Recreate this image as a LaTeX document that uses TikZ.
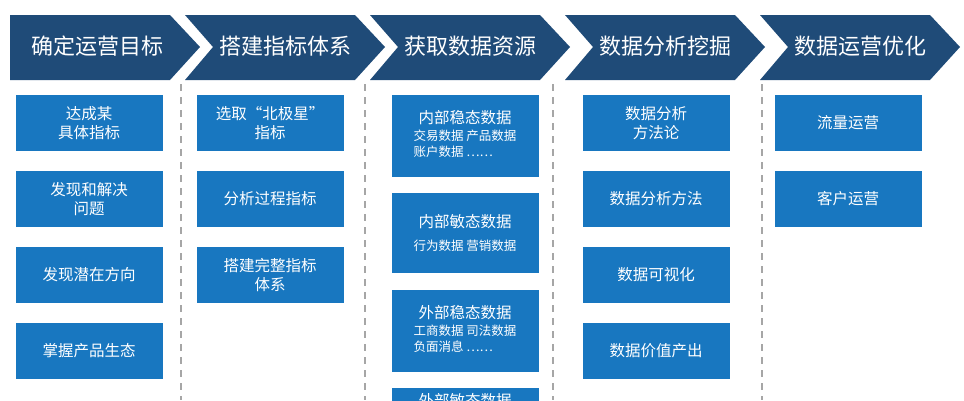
\documentclass[tikz,border=0pt]{standalone}
\usepackage{fontspec}
\setmainfont{Noto Sans CJK SC}
\usetikzlibrary{positioning}
\definecolor{navy}{HTML}{1F4B78}
\definecolor{boxblue}{HTML}{1877C0}
\newcommand{\detailfont}{\fontsize{12.5}{16}\selectfont}
\tikzset{
  stepbox/.style={fill=boxblue, text=white, inner sep=0pt, minimum width=147pt, align=center, font=\fontsize{15.5}{19}\selectfont},
  divider/.style={gray!70, line width=1.3pt, dash pattern=on 7pt off 6pt}
}
\begin{document}
\begin{tikzpicture}[x=1pt, y=-1pt]
      \useasboundingbox (0,0) rectangle (964,400);

      % header chevrons
      \fill[navy] (10,15) -- (170,15) -- (200,47) -- (170,80) -- (10,80) -- cycle;
      \foreach \x in {185,370,565,760} {
        \fill[navy] (\x,15) -- (\x+170,15) -- (\x+200,47) -- (\x+170,80) -- (\x,80) -- (\x+28,47) -- cycle;
      }
      \node[text=white, font=\fontsize{22}{24}\selectfont] (h1) at (97,46) {确定运营目标};
      \node[text=white, font=\fontsize{22}{24}\selectfont] (h2) at (285,46) {搭建指标体系};
      \node[text=white, font=\fontsize{22}{24}\selectfont] (h3) at (470,46) {获取数据资源};
      \node[text=white, font=\fontsize{22}{24}\selectfont] (h4) at (665,46) {数据分析挖掘};
      \node[text=white, font=\fontsize{22}{24}\selectfont] (h5) at (860,46) {数据运营优化};

      % dividers
      \foreach \x in {181,365,553,762} \draw[divider] (\x,84) -- (\x,400);

      % column 1
      \node[stepbox, minimum height=56pt] (c1a) at (89,123) {达成某\\具体指标};
      \node[stepbox, minimum height=56pt] (c1b) at (89,199) {发现和解决\\问题};
      \node[stepbox, minimum height=56pt] (c1c) at (89,275) {发现潜在方向};
      \node[stepbox, minimum height=56pt] (c1d) at (89,351) {掌握产品生态};

      % column 2
      \node[stepbox, minimum height=56pt] (c2a) at (270,123) {选取“北极星”\\指标};
      \node[stepbox, minimum height=56pt] (c2b) at (270,199) {分析过程指标};
      \node[stepbox, minimum height=56pt] (c2c) at (270,275) {搭建完整指标\\体系};

      % column 3
      \node[stepbox, minimum height=82pt] (c3a) at (465,136) {内部稳态数据\\[4pt]{\detailfont\begin{tabular}{@{}l@{}}交易数据 产品数据\\账户数据 ……\end{tabular}}};
      \node[stepbox, minimum height=80pt] (c3b) at (465,233) {内部敏态数据\\[4pt]{\detailfont 行为数据 营销数据}};
      \node[stepbox, minimum height=82pt] (c3c) at (465,331) {外部稳态数据\\[4pt]{\detailfont\begin{tabular}{@{}l@{}}工商数据 司法数据\\负面消息 ……\end{tabular}}};
      \node[stepbox, inner ysep=5pt, anchor=north] (c3d) at (465,388) {外部敏态数据};

      % column 4
      \node[stepbox, minimum height=56pt] (c4a) at (656,123) {数据分析\\方法论};
      \node[stepbox, minimum height=56pt] (c4b) at (656,199) {数据分析方法};
      \node[stepbox, minimum height=56pt] (c4c) at (656,275) {数据可视化};
      \node[stepbox, minimum height=56pt] (c4d) at (656,351) {数据价值产出};

      % column 5
      \node[stepbox, minimum height=56pt] (c5a) at (848,123) {流量运营};
      \node[stepbox, minimum height=56pt] (c5b) at (848,199) {客户运营};
\end{tikzpicture}
\end{document}
